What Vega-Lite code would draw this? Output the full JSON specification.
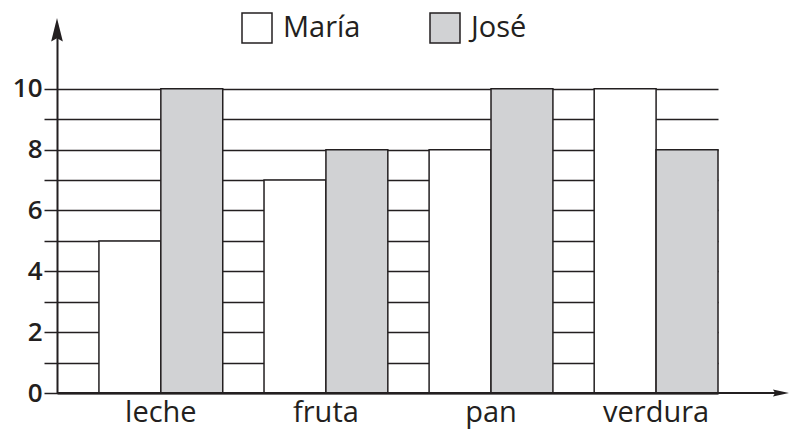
{
  "$schema": "https://vega.github.io/schema/vega-lite/v6.json",
  "width": 661,
  "height": 362,
  "autosize": {"type": "none"},
  "padding": {"left": 57, "top": 31, "right": 71, "bottom": 44},
  "background": "white",
  "config": {
    "view": {"stroke": null},
    "font": "Open Sans",
    "axis": {"labelColor": "#231f20", "labelFont": "Open Sans"},
    "legend": {"labelFont": "Open Sans"}
  },
  "datasets": {
    "food": [
      {"comida": "leche", "persona": "María", "valor": 5},
      {"comida": "leche", "persona": "José", "valor": 10},
      {"comida": "fruta", "persona": "María", "valor": 7},
      {"comida": "fruta", "persona": "José", "valor": 8},
      {"comida": "pan", "persona": "María", "valor": 8},
      {"comida": "pan", "persona": "José", "valor": 10},
      {"comida": "verdura", "persona": "María", "valor": 10},
      {"comida": "verdura", "persona": "José", "valor": 8}
    ],
    "xarrow": [{"a": 0, "b": 1.094, "valor": 0}],
    "yarrow": [{"a": 0, "valor": 11.9}]
  },
  "encoding": {
    "y": {
      "field": "valor",
      "type": "quantitative",
      "scale": {"domain": [0, 11.9], "nice": false, "zero": true},
      "axis": {
        "title": null,
        "values": [0, 1, 2, 3, 4, 5, 6, 7, 8, 9, 10],
        "labelExpr": "datum.value % 2 === 0 ? datum.label : ''",
        "labelOverlap": false,
        "labelFontSize": 26,
        "labelFontWeight": 600,
        "labelPadding": 2,
        "tickSize": 13,
        "tickColor": "#231f20",
        "tickWidth": 1.5,
        "domainColor": "#231f20",
        "domainWidth": 2,
        "grid": true,
        "gridColor": "#231f20",
        "gridWidth": 1.5,
        "gridOpacity": 1
      }
    }
  },
  "layer": [
    {
      "data": {"name": "food"},
      "mark": {"type": "bar", "stroke": "#231f20", "strokeWidth": 1.5, "opacity": 1},
      "encoding": {
        "x": {
          "field": "comida",
          "type": "nominal",
          "sort": ["leche", "fruta", "pan", "verdura"],
          "scale": {"paddingInner": 0.25, "paddingOuter": 0.127, "align": 1},
          "axis": {
            "title": null,
            "labelAngle": 0,
            "ticks": false,
            "labelFontSize": 29,
            "labelPadding": 5,
            "domain": true,
            "domainColor": "#231f20",
            "domainWidth": 2,
            "grid": false
          }
        },
        "xOffset": {
          "field": "persona",
          "type": "nominal",
          "sort": ["María", "José"],
          "scale": {"paddingInner": 0, "paddingOuter": 0}
        },
        "fill": {
          "field": "persona",
          "type": "nominal",
          "sort": ["María", "José"],
          "scale": {"domain": ["María", "José"], "range": ["#ffffff", "#d1d2d4"]},
          "legend": {
            "title": null,
            "orient": "none",
            "legendX": 184,
            "legendY": -19,
            "direction": "horizontal",
            "columns": 2,
            "columnPadding": 66,
            "symbolType": "square",
            "symbolSize": 900,
            "symbolStrokeColor": "#231f20",
            "symbolStrokeWidth": 1.5,
            "symbolOpacity": 1,
            "labelFontSize": 29,
            "labelColor": "#231f20",
            "labelOffset": 10,
            "labelLimit": 300
          }
        }
      }
    },
    {
      "data": {"name": "xarrow"},
      "mark": {"type": "rule", "color": "#231f20", "strokeWidth": 2},
      "encoding": {
        "x": {"field": "a", "type": "quantitative", "scale": {"domain": [0, 1], "nice": false}, "axis": null},
        "x2": {"field": "b"}
      }
    },
    {
      "data": {"name": "xarrow"},
      "mark": {"type": "point", "shape": "M1,0L-0.8,0.38L-0.55,0L-0.8,-0.38Z", "filled": true, "color": "#231f20", "size": 324, "opacity": 1},
      "encoding": {
        "x": {"field": "b", "type": "quantitative", "scale": {"domain": [0, 1], "nice": false}, "axis": null}
      }
    },
    {
      "data": {"name": "yarrow"},
      "mark": {"type": "point", "shape": "M0,-1L0.45,0.8L0,0.55L-0.45,0.8Z", "filled": true, "color": "#231f20", "size": 676, "opacity": 1},
      "encoding": {
        "x": {"field": "a", "type": "quantitative", "scale": {"domain": [0, 1], "nice": false}, "axis": null}
      }
    }
  ],
  "resolve": {"scale": {"x": "independent"}}
}
